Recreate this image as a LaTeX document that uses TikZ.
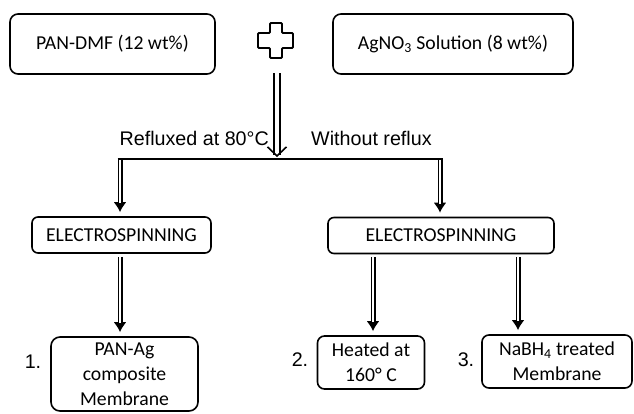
\documentclass[tikz,border=0pt]{standalone}
\usepackage{fontspec}
\setmainfont{Carlito}
\newfontfamily\arialfont{Liberation Sans}
\usetikzlibrary{arrows.meta}

\begin{document}
\begin{tikzpicture}
[x=1pt,y=-1pt,
 every node/.style={font=\fontsize{19.7}{25}\selectfont},
 box/.style={draw,line width=1.6pt,rounded corners=8pt,align=center,inner sep=0pt},
 side/.style={font=\arialfont\fontsize{19.7}{25}\selectfont,inner sep=0pt},
 flow/.style={line width=5pt,-{Latex[length=10pt,width=13pt]},shorten >=4pt,
   postaction={draw=white,line width=1.8pt,-,shorten >=13pt}},
 mix/.style={double,double distance=4.6pt,line width=1.6pt,-{Straight Barb[length=9pt,width=19pt]},shorten >=2pt}]

	\useasboundingbox (0,0) rectangle (634,413);
	%\draw[gray,step=10] (0,0) grid (634,413);

	\node[box,minimum width=205,minimum height=60] (dmf) at (112.5,44)
	{PAN-DMF (12 wt\%)};
	\node[box,minimum width=240,minimum height=60] (agno) at (453,44)
	{AgNO\textsubscript{3} Solution (8 wt\%)};

	\draw[line width=1.8pt,rounded corners=1pt] (270,23) -- (282,23) -- (282,33) -- (293,33) -- (293,48)
	-- (282,48) -- (282,58) -- (270,58) -- (270,48) -- (258,48) -- (258,33) -- (270,33) -- cycle;

	\node[side,anchor=east] (refl) at (269,138) {Refluxed at 80°C};
	\node[side,anchor=west] (wo) at (311,138) {Without reflux};

	\node[box,rounded corners=6pt,minimum width=179,minimum height=36] (el1) at (121.5,235)
	{ELECTROSPINNING};
	\node[box,rounded corners=6pt,minimum width=226,minimum height=36] (el2) at (441,235.5)
	{ELECTROSPINNING};

	\node[box,rounded corners=9pt,minimum width=147,minimum height=74] (m1) at (124.5,374)
	{PAN-Ag\\composite\\Membrane};
	\node[box,rounded corners=7pt,minimum width=107,minimum height=53] (m2) at (371,362.5)
	{Heated at\\160° C};
	\node[box,rounded corners=7pt,minimum width=150,minimum height=53] (m3) at (557,361.5)
	{NaBH\textsubscript{4} treated\\Membrane};

	\node[side] (n1) at (33,362) {1.};
	\node[side] (n2) at (300,360) {2.};
	\node[side] (n3) at (466,360) {3.};

	\coordinate (top) at (277,73);
	\coordinate (split) at (277,159);
	\coordinate (bl) at (120,159);
	\coordinate (br) at (440,159);
	\coordinate (c2) at (373,254);
	\coordinate (c3) at (518,254);

	\draw[mix] (top) -- (split);

	\draw[flow] (bl) -- (bl |- el1.north);
	\draw[flow] (br) -- (br |- el2.north);
	\draw[line width=2.6pt,shorten <=-2.5pt,shorten >=-2.5pt] (bl) -- (br);

	\draw[flow,shorten <=3pt] (bl |- el1.south) -- (bl |- m1.north);
	\draw[flow,shorten <=3pt] (c2 |- el2.south) -- (c2 |- m2.north);
	\draw[flow,shorten <=3pt] (c3 |- el2.south) -- (c3 |- m3.north);
\end{tikzpicture}
\end{document}
